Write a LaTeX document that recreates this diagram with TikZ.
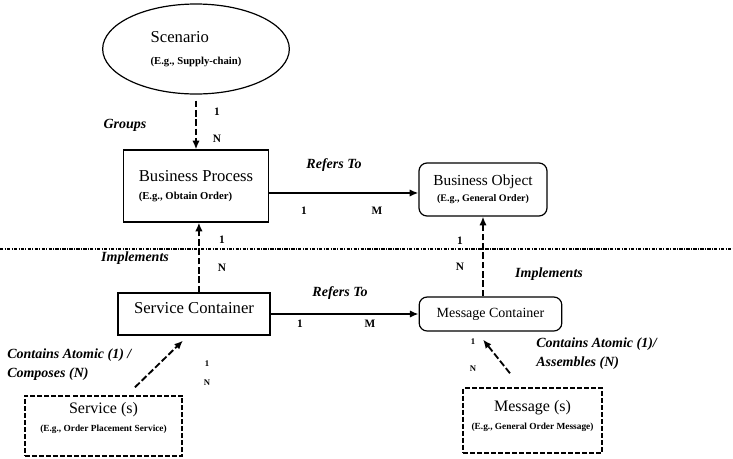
\documentclass[tikz,border=0pt]{standalone}
\usepackage{fontspec}
\setmainfont{Liberation Serif}
\usetikzlibrary{shapes.geometric, arrows.meta, positioning}
\tikzstyle{scenario} = [ellipse, draw=black, line width=0.9pt, minimum width=140pt, minimum height=67.5pt, inner sep=0pt, align=left, font=\fontsize{12.5}{14}\selectfont]
\tikzstyle{process} = [rectangle, draw=black, line width=0.9pt, align=left, font=\fontsize{12.5}{14}\selectfont]
\tikzstyle{object} = [rectangle, rounded corners=6pt, draw=black, line width=0.9pt, align=center]
\tikzstyle{atomic} = [rectangle, draw=black, line width=1.1pt, dash pattern=on 3.75pt off 1.5pt, align=center, font=\fontsize{12}{13.5}\selectfont]
\tikzstyle{arrow} = [line width=1.4pt, -{Latex[length=6.5pt,width=5.5pt]}]
\tikzstyle{dasharrow} = [arrow, dash pattern=on 5pt off 2pt]
\tikzstyle{card} = [inner sep=0pt, font=\fontsize{8.5}{9}\selectfont\bfseries]
\tikzstyle{rel} = [inner sep=0pt, align=left, font=\fontsize{10.5}{14}\selectfont\bfseries\itshape]
\newcommand{\egtext}[2]{{\fontsize{#1}{#1}\selectfont\bfseries #2}}

\begin{document}
\begin{tikzpicture}[x=0.75pt, y=-0.75pt]
\useasboundingbox (0,0) rectangle (733,458);

% upper level
\node (scen) [scenario] at (196,49) {Scenario\\[3pt]\egtext{8}{(E.g., Supply-chain)}};
\node (bproc) [process, minimum width=108.75pt, minimum height=54pt] at (196,186) {Business Process\\\egtext{8}{(E.g., Obtain Order)}};
\node (bobj) [object, minimum width=96pt, minimum height=39.75pt, font=\fontsize{11.5}{12}\selectfont] at (483,189.5) {Business Object\\\egtext{7.5}{(E.g., General Order)}};

% lower level
\node (scont) [process, minimum width=114pt, minimum height=31.5pt, text depth=9.5pt] at (194,314) {Service Container};
\node (mcont) [object, minimum width=107pt, minimum height=25.5pt, font=\fontsize{10.5}{12}\selectfont] at (490.5,314) {Message Container};
\node (serv) [atomic, minimum width=118pt, minimum height=45pt, text depth=14pt] at (103.5,426) {Service (s)\\\egtext{7}{(E.g., Order Placement Service)}};
\node (msg) [atomic, minimum width=104pt, minimum height=48.75pt, text depth=9pt] at (532.5,420.5) {Message (s)\\\egtext{7}{(E.g., General Order Message)}};

% separator
\coordinate (sepl) at (0,249);
\coordinate (sepr) at (733,249);
\draw [line width=1pt, dash pattern=on 2.5pt off 1pt on 0.7pt off 1pt] (sepl) -- (sepr);

% connectors
\draw [dasharrow, shorten <=4.5pt] (scen.south) -- (bproc.north);
\node (g1) [card] at (217,112) {1};
\node (gn) [card] at (217,139) {N};
\node (grp) [rel] at (125,125) {Groups};

\draw [arrow] ([yshift=-2.6pt]bobj.west -| bproc.east) -- ([yshift=-2.6pt]bobj.west);
\node (r1) [card] at (304,211) {1};
\node (rm) [card] at (377,211) {M};
\node (ref1) [rel] at (334,165) {Refers To};

\draw [dasharrow] ([xshift=2.2pt]scont.north -| bproc.south) -- ([xshift=2.2pt]bproc.south);
\node (i1) [card] at (222,240) {1};
\node (in) [card] at (222,268) {N};
\node (imp1) [rel] at (135,258) {Implements};

\draw [dasharrow] (mcont.north -| bobj.south) -- (bobj.south);
\node (j1) [card] at (460,241) {1};
\node (jn) [card] at (460,267) {N};
\node (imp2) [rel] at (549,274) {Implements};

\draw [arrow] (scont.east) -- (mcont.west);
\node (s1) [card] at (300,324) {1};
\node (sm) [card] at (370,324) {M};
\node (ref2) [rel] at (340,293) {Refers To};

\draw [dasharrow] ([xshift=23.6pt,yshift=6pt]serv.north) -- ([xshift=-8.25pt,yshift=-3.75pt]scont.south);
\node (c1) [card, font=\fontsize{6.5}{7}\selectfont\bfseries] at (207,364) {1};
\node (cn) [card, font=\fontsize{6.5}{7}\selectfont\bfseries] at (207,383) {N};
\node (comp) [rel, anchor=west] at (7,364.5) {Contains Atomic (1) /\\Composes (N)};

\draw [dasharrow] ([xshift=-16.9pt,yshift=10.5pt]msg.north) -- ([xshift=-5.6pt,yshift=-6pt]mcont.south);
\node (m1) [card, font=\fontsize{6.5}{7}\selectfont\bfseries] at (473,342) {1};
\node (mn) [card, font=\fontsize{6.5}{7}\selectfont\bfseries] at (473,369) {N};
\node (asm) [rel, anchor=west] at (536,353.5) {Contains Atomic (1)/\\Assembles (N)};

\end{tikzpicture}
\end{document}
